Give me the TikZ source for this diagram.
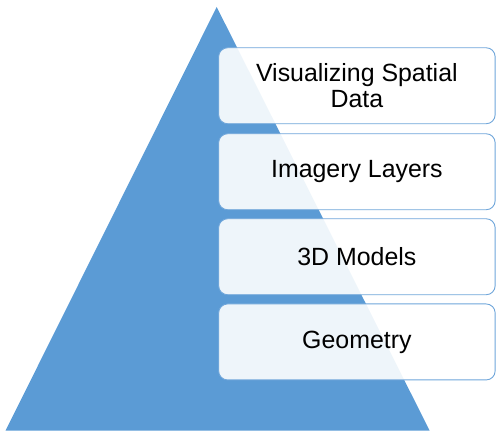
\documentclass[tikz,border=0pt]{standalone}
\usepackage{fontspec}
\setmainfont{Liberation Sans}
\definecolor{triblue}{HTML}{5B9BD5}
\definecolor{boxline}{HTML}{6FA6DA}
\begin{document}
\begin{tikzpicture}[x=1pt,y=-1pt,
  level/.style={draw=boxline, line width=0.9pt, fill=white, fill opacity=0.9, text opacity=1,
    rounded corners=9pt, minimum width=276.5pt, minimum height=76pt, align=center,
    inner sep=0pt, font=\fontsize{24.9}{26.5}\selectfont, anchor=north west}]
\useasboundingbox (0,0) rectangle (499,438);
\fill[triblue] (216.7,7) coordinate (apex) -- (429.7,430.7) coordinate (br) -- (5.5,430.7) coordinate (bl) -- cycle;
\node[level] (b1) at (218.2,47.3) {Visualizing Spatial\\Data};
\node[level] (b2) at (218.2,133.3) {Imagery Layers};
\node[level] (b3) at (218.2,218.3) {3D Models};
\node[level] (b4) at (218.2,303.5) {Geometry};
\end{tikzpicture}
\end{document}
